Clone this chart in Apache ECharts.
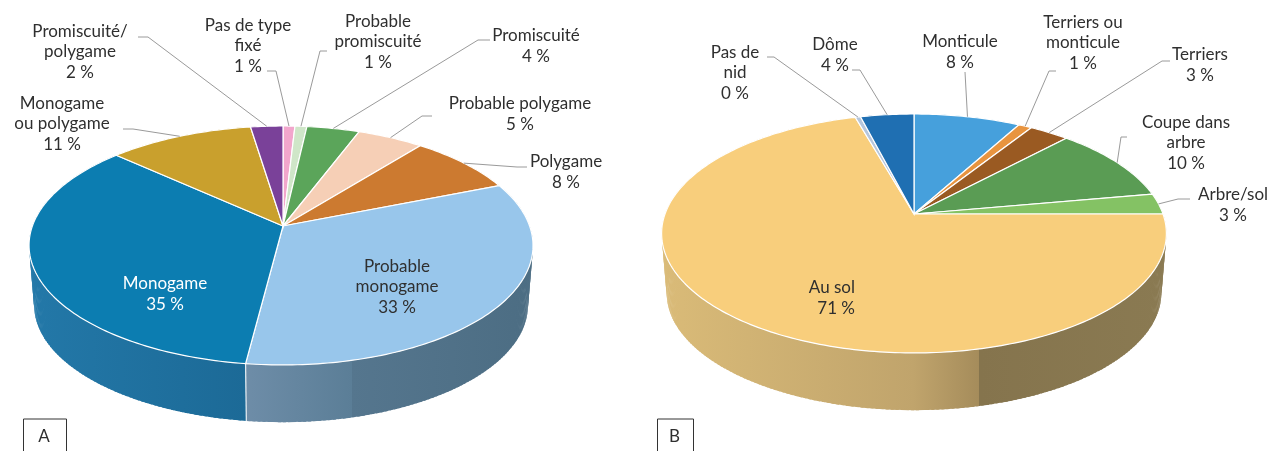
<!DOCTYPE html>
<html><head><meta charset="utf-8">
<style>html,body{margin:0;padding:0;background:#fff}#c{width:1274px;height:451px}</style>
<script src="https://cdn.jsdelivr.net/npm/echarts@6/dist/echarts.min.js"></script>
</head><body><div id="c"></div>
<script>
// ---------- data ----------
const categoriesA = ['Pas de type\nfixé','Probable\npromiscuité','Promiscuité','Probable polygame','Polygame','Probable\nmonogame','Monogame','Monogame\nou polygame','Promiscuité/\npolygame'];
const valuesA = [0.9,0.9,4,5,8.2,33,34.8,10.8,2.4];
const categoriesB = ['Monticule','Terriers ou\nmonticule','Terriers','Coupe dans\narbre','Arbre/sol','Au sol','Pas de\nnid','Dôme'];
const valuesB = [8,1,3,10.2,2.8,70.6,0.4,4];
// ---------- styles ----------
const colorsA = ['#F2A6CC','#CFE6C8','#5BA55A','#F6CFB6','#CC7A30','#98C6EB','#0C7DB1','#C9A02D','#7A4199'];
const colorsB = ['#46A0DC','#E8943F','#9A5A22','#5A9C54','#84C264','#F8CE7C','#B5C6DC','#1F6FB2'];
// ---------- layout ----------
const geomA = {cx:283, cy:226, ex:281, R:248.6, S:116.3, p:0.163};
const geomB = {cx:914, cy:214, ex:914, R:249, S:116.3, p:0.163};
const labelPosA = [[248,46],[378,42],[536,46],[520,114],[566,172],[397,287],[165,294],[62,124],[80,52]];
const leaderA = [[[267,71],[276,71]],[[327,51],[320,51]],[[490,40],[478,40]],[[432,116],[422,116]],[[527,167],[517,167]],null,null,[[123,129],[133,129]],[[138,37],[148,37]]];
const labelPosB = [[960,52],[1083,43],[1200,65],[1186,143],[1233,205],[855,298],[735,73],[835,55]];
const leaderB = [[[965,72],[965,72]],[[1056,71],[1049,71]],[[1170,61],[1162,61]],[[1127,137],[1121,137]],[[1190,199],[1178,199]],null,[[767,57],[774,57]],[[852,70],[860,70]]];
const wallA = {5:[245,533,[[0,'#6E8DA8'],[0.37,'#5B7E97'],[0.37,'#55768E'],[1,'#4C6D83']]],
               6:[30,245,[[0,'#2378A8'],[1,'#1C6A97']]]};
const wallB = {5:[661,1166,[[0,'#DABB78'],[0.5,'#C0A46C'],[0.63,'#A58C5B'],[0.63,'#85744D'],[1,'#8A7A52']]]};
const FONT = '17px Lato';

function proj(g,a,level){
  const r=a*Math.PI/180, X=Math.sin(r), Y=Math.cos(r), w=1+g.p*Y;
  const s=level?0.98:1, d=level?60:0;
  // the horizontal centre of the rim sits at ex while the apex of the slices sits at cx
  const x0=g.cx+(g.ex-g.cx)*Math.abs(X);
  return [x0+s*g.R*X/w, g.cy+d-s*g.S*Y/w];
}
function ranges(vals){
  const tot=vals.reduce((a,b)=>a+b,0); let c=0;
  return vals.map(v=>{const a0=c/tot*360; c+=v; return [a0,c/tot*360];});
}
function arc(g,a0,a1,level){
  const pts=[], n=Math.max(2,Math.ceil((a1-a0)));
  for(let i=0;i<=n;i++) pts.push(proj(g,a0+(a1-a0)*i/n,level));
  return pts;
}
function pieSeries(vals,cats,colors,g,labelPos,leader,wall,whiteIdx,rightIdx){
  const rg=ranges(vals), data=vals.map((v,i)=>[v,i]);
  const base={type:'custom',coordinateSystem:'none',silent:true,animation:false,data:data};
  return [
    Object.assign({},base,{z:1,renderItem:(p)=>{
      const i=p.dataIndex,[a0,a1]=rg[i],w=wall[i],kids=[];
      const fill=w?{type:'linear',x:w[0],y:0,x2:w[1],y2:0,global:true,colorStops:w[2].map(s=>({offset:s[0],color:s[1]}))}:colors[i];
      for(let a=a0;a<a1;a+=1){
        const b=Math.min(a1,a+1.6);
        const q=[proj(g,a,0),proj(g,b,0),proj(g,b,1),proj(g,a,1)];
        kids.push({type:'polygon',shape:{points:q},style:{fill:fill}});
      }
      if(Math.cos(a0*Math.PI/180)<0 && Math.sin(a0*Math.PI/180)<0){
        kids.push({type:'line',shape:{x1:proj(g,a0,0)[0],y1:proj(g,a0,0)[1],x2:proj(g,a0,1)[0],y2:proj(g,a0,1)[1]},style:{stroke:'#e8eef3',lineWidth:1.2},z2:5});
      }
      return {type:'group',children:kids};
    }}),
    Object.assign({},base,{z:2,renderItem:(p)=>{
      const i=p.dataIndex,[a0,a1]=rg[i];
      return {type:'polygon',shape:{points:[[g.cx,g.cy]].concat(arc(g,a0,a1,0))},
        style:{fill:colors[i],stroke:'#fff',lineWidth:1.2}};
    }}),
    Object.assign({},base,{z:3,renderItem:(p)=>{
      const i=p.dataIndex,[a0,a1]=rg[i],kids=[];
      const val=Math.round(vals[i])+' %';
      if(leader[i]){
        const e=proj(g,(a0+a1)/2,0);
        kids.push({type:'polyline',shape:{points:[leader[i][0],leader[i][1],e]},style:{fill:null,stroke:'#9a9a9a',lineWidth:1}});
      }
      kids.push({type:'text',style:{text:cats[i]+'\n'+val,x:labelPos[i][0],y:labelPos[i][1],align:i===rightIdx?'right':'center',verticalAlign:'middle',
        font:FONT,lineHeight:20.5,fill:i===whiteIdx?'#fff':'#2f2f2f'}});
      return {type:'group',children:kids};
    }})
  ];
}
function box(x,w,t){
  return {type:'group',children:[
    {type:'rect',shape:{x:x,y:419,width:w,height:40},style:{fill:'#fff',stroke:'#333',lineWidth:1}},
    {type:'text',style:{text:t,x:x+w/2-1,y:437,align:'center',verticalAlign:'middle',font:FONT,fill:'#2f2f2f'}}
  ]};
}
const chart=echarts.init(document.getElementById('c'),null,{renderer:'canvas'});
chart.setOption({
  animation:false,backgroundColor:'#fff',
  graphic:[box(23.5,43,'A'),box(657.5,36,'B')],
  series:[].concat(
    pieSeries(valuesA,categoriesA,colorsA,geomA,labelPosA,leaderA,wallA,6,-1),
    pieSeries(valuesB,categoriesB,colorsB,geomB,labelPosB,leaderB,wallB,-1,5)
  )
});
</script></body></html>
